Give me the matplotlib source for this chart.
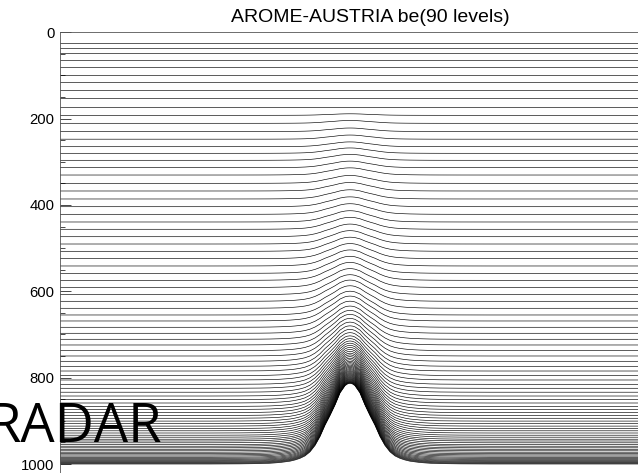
import numpy as np
import matplotlib
matplotlib.use('Agg')
import matplotlib.pyplot as plt

# Level pressures (hPa) over flat ground, read top to bottom
level_flat = [25.5, 37.1, 48.6, 64.9, 81.5, 98.4, 115.1, 132.5, 151.5, 171.9,
              192.3, 210.8, 229.8, 247.6, 265.0, 280.3, 296.5, 313.6, 330.6, 349.8,
              367.6, 386.1, 404.0, 421.6, 439.4, 456.3, 473.5, 490.4, 507.3, 524.4,
              541.3, 558.3, 574.5, 591.1, 607.8, 623.1, 639.3, 654.8, 668.7, 683.3,
              697.2, 711.1, 724.3, 737.5, 749.8, 762.1, 773.7, 784.6, 795.2, 805.4,
              815.4, 824.6, 833.7, 842.5, 850.8, 858.7, 866.6, 873.7, 880.9, 887.6,
              894.1, 900.6, 906.6, 912.2, 917.8, 923.1, 928.2, 933.3, 937.9, 942.6,
              946.7, 950.9, 955.1, 958.8, 962.5, 965.9, 969.4, 972.7, 975.9, 978.9,
              981.7, 984.5, 987.0, 989.4, 991.6, 993.6, 995.4, 997.0, 998.6, 1000.0]

# Same levels above the mountain top (hPa)
level_peak = [25.5, 37.1, 48.6, 64.9, 81.5, 98.4, 115.1, 132.5, 151.5, 171.9,
              188.8, 204.3, 221.7, 238.0, 253.9, 267.9, 282.8, 298.4, 314.0, 331.6,
              347.9, 364.8, 381.2, 397.1, 413.3, 428.6, 444.2, 459.5, 474.6, 489.4,
              504.1, 518.9, 533.0, 547.4, 561.5, 573.9, 587.1, 599.7, 611.0, 622.8,
              634.1, 644.2, 653.4, 662.7, 671.3, 679.9, 688.1, 695.7, 703.1, 709.5,
              715.0, 720.1, 725.1, 729.9, 734.5, 738.9, 743.2, 747.1, 751.1, 754.8,
              758.4, 761.9, 765.0, 767.9, 770.8, 773.5, 776.1, 778.7, 781.1, 783.5,
              785.6, 787.8, 789.9, 791.8, 793.7, 795.5, 797.3, 799.0, 800.6, 802.2,
              803.6, 805.0, 806.3, 807.6, 808.7, 809.7, 810.6, 811.5, 812.3, 813.0]

# Surface pressure across the left half of the domain (grid units, hPa)
terrain_x = [0, 25.9, 31.03, 34.48, 36.21, 37.93, 39.66, 40.52, 41.38, 42.24,
             43.1, 43.97, 44.83, 45.69, 46.55, 47.41, 48.28, 49.14, 49.57, 50]
terrain_p = [1000, 1000, 999.7, 999.1, 998.3, 996.6, 993.5, 990.7, 986.9, 981.3,
             971.9, 957.0, 936.4, 910.2, 887.8, 863.5, 835.4, 818.6, 814.5, 813.0]

# mirror to the right half
x_left = np.array(terrain_x)
p_left = np.array(terrain_p)
x = np.concatenate([x_left, 100 - x_left[::-1][1:]])
ps = np.concatenate([p_left, p_left[::-1][1:]])
weight = (1000 - ps) / (1000 - ps.min())

fig = plt.figure(figsize=(6.38, 4.73), dpi=100)
ax = fig.add_axes([60/638, 1 - 32.3/473 - 1100*0.4317/473, 580/638, 1100*0.4317/473])

for pf, pp in zip(level_flat, level_peak):
    ax.plot(x, pf + (pp - pf) * weight, color='black', lw=0.45)

ax.set_xlim(0, 100)
ax.set_ylim(1100, 0)
ax.set_yticks([0, 200, 400, 600, 800, 1000])
ax.set_yticks(np.arange(0, 1100, 50), minor=True)
ax.tick_params(axis='y', which='major', direction='in', length=8, width=0.5,
               pad=4, labelsize=10.7)
ax.tick_params(axis='y', which='minor', direction='in', length=3.6, width=0.5)
ax.set_xticks([])
for lab in ax.get_yticklabels():
    lab.set_family('Liberation Sans')
for s in ['left', 'top']:
    ax.spines[s].set_linewidth(0.6)
    ax.spines[s].set_color('#555555')
ax.spines['right'].set_visible(False)
ax.spines['bottom'].set_visible(False)

fig.text(370/638, 1 - 17/473, 'AROME-AUSTRIA be(90 levels)', ha='center', va='center',
         fontsize=14, family='Liberation Sans')
# overlay word, cut at the left edge as in the original
fig.text(-12/638, 1 - 442/473, 'RADAR', ha='left', va='baseline', fontsize=39,
         family='Open Sans', color='black')

fig.savefig('out.png', dpi=100)
